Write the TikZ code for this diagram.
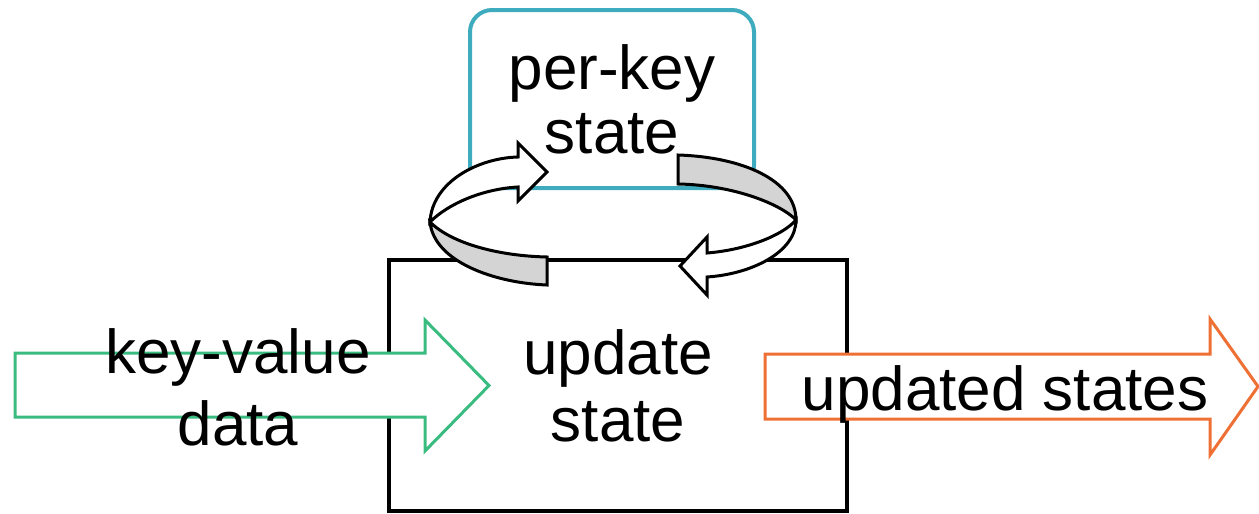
\documentclass[tikz,border=0pt]{standalone}
\usepackage{fontspec}
\setmainfont{Liberation Sans}
\usetikzlibrary{positioning}
\definecolor{keyteal}{RGB}{62,172,190}
\definecolor{datagreen}{RGB}{58,188,128}
\definecolor{outorange}{RGB}{238,112,52}
\definecolor{ringgray}{RGB}{212,212,212}

\begin{document}
\begin{tikzpicture}[x=0.5pt,y=-0.5pt,
  box/.style={rectangle,draw,line width=2pt,align=center,inner sep=0pt},
  lbl/.style={align=center,inner sep=0pt},
  blockarr/.style={line width=1.5pt,fill=white,line join=miter},
  ring/.style={draw=black,line width=1.5pt,line join=miter}]
  \useasboundingbox (0,0) rectangle (1259,514);
  % the two boxes
  \node[box,minimum width=229pt,minimum height=125.5pt,font=\fontsize{31}{33.5}\selectfont] (upd) at (618,385.5) {update\\state};
  \node[box,draw=keyteal,rounded corners=11pt,minimum width=142pt,minimum height=89pt,font=\fontsize{31}{32}\selectfont] (store) at (612,99) {per-key\\state};
  % ring of arrows between them
  \filldraw[ring,fill=white] (430,222) .. controls (432,182) and (478,158) .. (518,157) -- (518,143) -- (547,172) -- (518,201) -- (518,187) .. controls (482,189) and (448,204) .. cycle;
  \filldraw[ring,fill=ringgray] (430,222) .. controls (434,262) and (495,283) .. (547,285) -- (547,257) .. controls (500,256) and (452,244) .. cycle;
  \filldraw[ring,fill=ringgray] (678,155) .. controls (742,157) and (796,180) .. (796,220) .. controls (782,205) and (735,185) .. (678,184) -- cycle;
  \filldraw[ring,fill=white] (796,220) .. controls (796,252) and (752,274) .. (707,277) -- (707,295) -- (680,266) -- (707,237) -- (707,253) .. controls (745,250) and (782,236) .. cycle;
  % input and output arrows
  \filldraw[blockarr,draw=datagreen] (15,353) -- (425,353) -- (425,320) -- (489,385.5) -- (425,451) -- (425,417) -- (15,417) -- cycle;
  \filldraw[blockarr,draw=outorange] (765,354) -- (1210,354) -- (1210,319) -- (1258,386.5) -- (1210,455) -- (1210,419) -- (765,419) -- cycle;
  \node[lbl,font=\fontsize{31}{36}\selectfont] (kvtxt) at (238,387) {key-value\\data};
  \node[lbl,font=\fontsize{31}{36}\selectfont,anchor=base] (outtxt) at (1005,410) {updated states};
\end{tikzpicture}
\end{document}
